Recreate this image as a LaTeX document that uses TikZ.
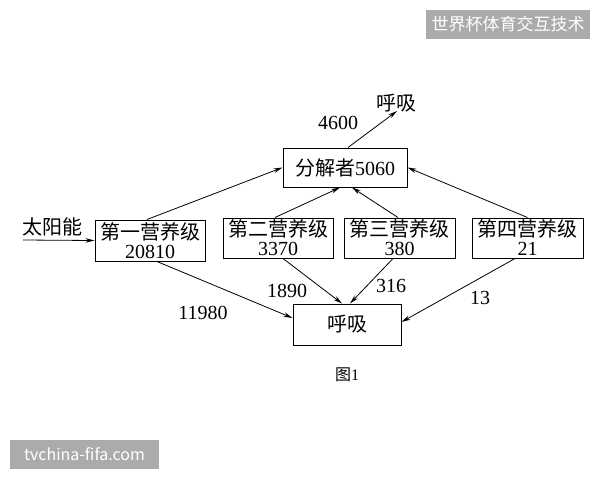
\documentclass[tikz,border=0pt]{standalone}
\usepackage{fontspec}
\setmainfont{Liberation Serif}
\newfontfamily\cjk{Noto Sans CJK SC}
\usetikzlibrary{arrows.meta}
\tikzset{
  box/.style={draw, line width=1pt, inner sep=0pt, align=center, font=\fontsize{20}{19}\selectfont},
  flow/.style={line width=0.8pt, -{Stealth[length=9pt,width=4.5pt]}},
  lbl/.style={inner sep=0pt, font=\fontsize{20}{20}\selectfont},
  wm/.style={fill=black!33, text=white, inner sep=0pt, font=\cjk\fontsize{17}{17}\selectfont}
}
\begin{document}
\begin{tikzpicture}[x=1pt,y=-1pt]
\useasboundingbox (0,0) rectangle (600,480);
% watermarks
\node[wm, minimum width=164pt, minimum height=29pt] (wm1) at (508,24.5) {世界杯体育交互技术};
\node[wm, minimum width=149pt, minimum height=29pt, font=\cjk\fontsize{16}{16}\selectfont] (wm2) at (84.5,454.5) {tvchina-fifa.com};
% boxes
\node[box, minimum width=110pt, minimum height=41pt] (n1) at (150,240.5) {{\cjk 第一营养级}\\20810};
\node[box, minimum width=110pt, minimum height=40pt] (n2) at (278,238) {{\cjk 第二营养级}\\3370};
\node[box, minimum width=111pt, minimum height=40pt] (n3) at (399.5,238) {{\cjk 第三营养级}\\380};
\node[box, minimum width=111pt, minimum height=40pt] (n4) at (527.5,238) {{\cjk 第四营养级}\\21};
\node[box, minimum width=124pt, minimum height=39pt] (dec) at (345,167.5) {{\cjk 分解者}5060};
\node[box, minimum width=108pt, minimum height=41pt] (resp) at (347,324.5) {\cjk 呼吸};
% labels
\node[lbl] (sun) at (53,227) {\cjk 太阳能};
\node[lbl] (resptop) at (396,103) {\cjk 呼吸};
\node[lbl] (l4600) at (338,123) {4600};
\node[lbl] (l11980) at (203,313) {11980};
\node[lbl] (l1890) at (287,291) {1890};
\node[lbl] (l316) at (391,286) {316};
\node[lbl] (l13) at (480,298) {13};
\node[inner sep=0pt, font=\fontsize{16}{16}\selectfont] (fig) at (347,375) {{\cjk 图}1};
\coordinate (sunstart) at (23,240);
\coordinate (resptip) at (397,111);
% arrows
\draw[flow] (sunstart) -- (n1.west);
\draw[flow] (dec.north) ++(3pt,0) coordinate (dn) (dn) -- (resptip);
\draw[flow] ([xshift=-3pt]n1.north) -- (dec.west);
\draw[flow] ([xshift=-3pt]n2.north) -- ([xshift=-5pt]dec.south);
\draw[flow] ([xshift=-1.5pt]n3.north) -- ([xshift=7pt]dec.south);
\draw[flow] (n4.north) -- (dec.east);
\draw[flow] ([xshift=7pt]n1.south) -- ([yshift=6.5pt]resp.west);
\draw[flow] ([xshift=5pt]n2.south) -- ([xshift=-5pt]resp.north);
\draw[flow] ([xshift=-6.5pt]n3.south) -- ([xshift=3pt]resp.north);
\draw[flow] ([xshift=-12.5pt]n4.south) -- ([yshift=2.5pt]resp.east);
\end{tikzpicture}
\end{document}
